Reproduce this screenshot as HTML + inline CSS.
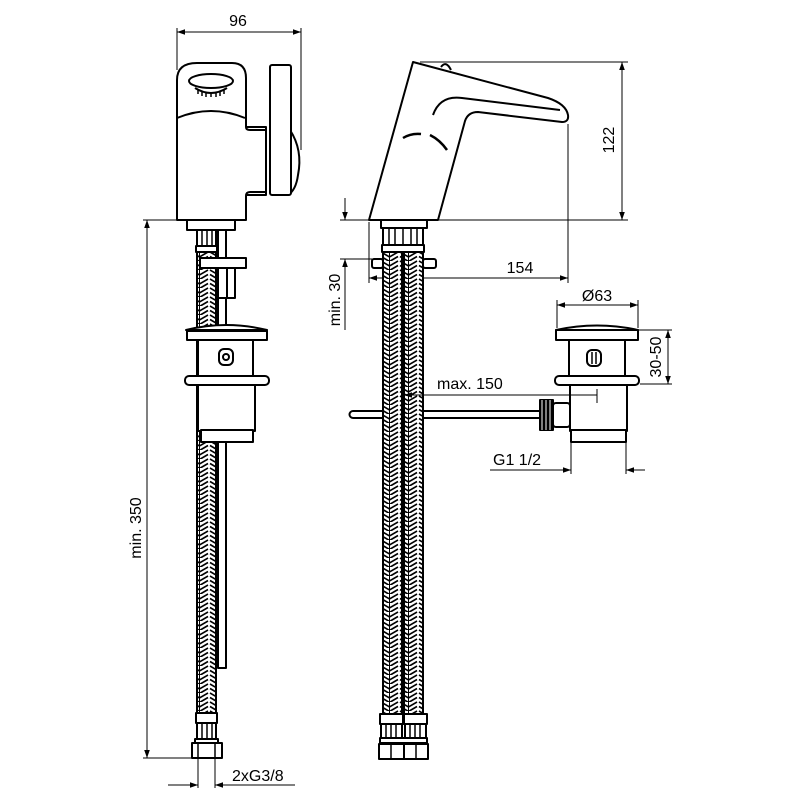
<!DOCTYPE html>
<html><head><meta charset="utf-8"><style>
html,body{margin:0;padding:0;background:#fff}
svg{display:block}
text{font-family:"Liberation Sans",Arial,sans-serif;font-size:16px;fill:#000}
</style></head><body>
<svg width="800" height="800" viewBox="0 0 800 800" xmlns="http://www.w3.org/2000/svg">
<defs>
<pattern id="braid" width="19" height="9" patternUnits="userSpaceOnUse">
<rect width="19" height="9" fill="#fff"/>
<path d="M1 0 L9.5 5 L18 0 M1 4.5 L9.5 9.5 L18 4.5 M1 9 L9.5 14 L18 9" stroke="#000" stroke-width="1.6" fill="none"/>
<line x1="9.5" y1="0" x2="9.5" y2="9" stroke="#000" stroke-width="1"/>
</pattern>
<marker id="a" viewBox="0 0 10 10" refX="10" refY="5" markerWidth="8" markerHeight="8" orient="auto-start-reverse" markerUnits="userSpaceOnUse"><path d="M0 1.5 L10 5 L0 8.5 z" fill="#000"/></marker>
</defs>
<g stroke="#000" stroke-width="1" fill="none">
<line x1="177" y1="28" x2="177" y2="70"/><line x1="301" y1="28" x2="301" y2="150"/>
<line x1="177" y1="32" x2="301" y2="32" marker-start="url(#a)" marker-end="url(#a)"/>
<line x1="143" y1="220" x2="177" y2="220"/><line x1="143" y1="758" x2="192" y2="758"/>
<line x1="147" y1="220" x2="147" y2="758" marker-start="url(#a)" marker-end="url(#a)"/>
<line x1="198" y1="758" x2="198" y2="788"/><line x1="215" y1="758" x2="215" y2="788"/>
<line x1="168" y1="785" x2="198" y2="785" marker-end="url(#a)"/>
<line x1="295" y1="785" x2="215" y2="785" marker-end="url(#a)"/>
</g>
<g stroke="#000" stroke-width="2" fill="#fff" stroke-linejoin="round">
<rect x="218" y="228" width="8" height="440"/>
<rect x="197" y="250" width="19" height="465" fill="url(#braid)"/>
<path d="M246 127 L266 127 L266 195 L246 195 Z"/>
<path d="M177 80 Q177 63 197 63 L232 63 Q246 63 246 78 L246 127 Q246 130 250 130 L266 130 L266 192 L250 192 Q246 192 246 196 L246 220 L177 220 Z"/>
<path d="M177 118 Q211 104 245 118" fill="none"/>
<path d="M290 130 Q303 150 298 175 Q296 190 288 195" />
<rect x="270" y="65" width="21" height="130" rx="2"/>
<ellipse cx="211" cy="81" rx="22" ry="7"/>
<path d="M195 88 Q211 98 227 88" fill="none"/>
<path d="M198 89 v5 M202 91 v5 M206 92 v5 M211 92 v5 M216 92 v5 M220 91 v5 M224 89 v5" fill="none" stroke-width="1.5"/>
<rect x="187" y="220" width="48" height="10"/>
<rect x="197" y="230" width="19" height="18"/>
<path d="M202 230 v18 M207 230 v18 M212 230 v18" fill="none" stroke-width="1.5"/>
<rect x="196" y="246" width="21" height="6"/>
<rect x="200" y="258" width="46" height="10"/>
<rect x="218" y="268" width="9" height="30"/><rect x="227" y="268" width="8" height="30"/>
<path d="M186 330 Q226 320 267 330 Z"/>
<rect x="187" y="331" width="80" height="9"/>
<rect x="198" y="340" width="55" height="36"/>
<rect x="219" y="349" width="14" height="16" rx="5"/>
<circle cx="226" cy="357" r="3" fill="none"/>
<rect x="185" y="376" width="84" height="9" rx="4"/>
<rect x="198" y="385" width="57" height="46"/>
<rect x="201" y="430" width="52" height="12"/>
<rect x="196" y="713" width="21" height="10"/>
<rect x="197" y="723" width="19" height="17"/>
<path d="M202 723 v17 M207 723 v17 M212 723 v17" fill="none" stroke-width="1.5"/>
<rect x="195" y="739" width="23" height="4"/>
<rect x="192" y="743" width="30" height="15"/>
<path d="M198 743 v15 M215 743 v15" fill="none" stroke-width="1.5"/>
</g>

<g stroke="#000" stroke-width="1" fill="none">
<line x1="420" y1="62" x2="628" y2="62"/><line x1="438" y1="220" x2="628" y2="220"/>
<line x1="622" y1="62" x2="622" y2="220" marker-start="url(#a)" marker-end="url(#a)"/>
<line x1="568" y1="124" x2="568" y2="283"/><line x1="369" y1="222" x2="369" y2="283"/>
<line x1="369" y1="278" x2="568" y2="278" marker-start="url(#a)" marker-end="url(#a)"/>
<line x1="340" y1="220" x2="369" y2="220"/><line x1="340" y1="259" x2="372" y2="259"/>
<line x1="345" y1="198" x2="345" y2="220" marker-end="url(#a)"/>
<line x1="345" y1="330" x2="345" y2="259" marker-end="url(#a)"/>
<line x1="557" y1="300" x2="557" y2="328"/><line x1="638" y1="300" x2="638" y2="328"/>
<line x1="557" y1="305" x2="638" y2="305" marker-start="url(#a)" marker-end="url(#a)"/>
<line x1="638" y1="330" x2="672" y2="330"/><line x1="640" y1="384" x2="672" y2="384"/>
<line x1="668" y1="330" x2="668" y2="384" marker-start="url(#a)" marker-end="url(#a)"/>
<line x1="571" y1="442" x2="571" y2="474"/><line x1="626" y1="442" x2="626" y2="474"/>
<line x1="490" y1="470" x2="571" y2="470" marker-end="url(#a)"/>
<line x1="645" y1="470" x2="626" y2="470" marker-end="url(#a)"/>
</g>
<g stroke="#000" stroke-width="2" fill="#fff" stroke-linejoin="round">
<path d="M353 411 L540 411 L540 418 L353 418 A3.5 3.5 0 0 1 353 411 Z"/>
<rect x="383" y="250" width="19" height="465" fill="url(#braid)"/>
<rect x="404" y="250" width="19" height="465" fill="url(#braid)"/>
<path d="M413 62 L548 98 Q566 104 568 115 Q569 122 562 122 L478 112 Q468 112 465 121 L438 220 L369 220 Z"/>
<path d="M441 67 Q446 60 451 70" fill="none"/>
<path d="M433 115 Q440 95 462 98 L560 110" fill="none"/>
<path d="M403 138 Q411 133 421 134" fill="none" stroke-width="2.5"/>
<path d="M430 135 Q440 140 447 150" fill="none" stroke-width="2.5"/>
<rect x="381" y="220" width="46" height="8"/>
<rect x="383" y="228" width="40" height="17"/>
<path d="M389 228 v17 M395 228 v17 M403 228 v17 M411 228 v17 M417 228 v17" fill="none" stroke-width="1.5"/>
<rect x="382" y="245" width="42" height="7"/>
<rect x="372" y="259" width="11" height="9" rx="2"/>
<rect x="423" y="259" width="13" height="9" rx="2"/>
<rect x="380" y="714" width="23" height="10"/><rect x="404" y="714" width="23" height="10"/>
<rect x="381" y="724" width="21" height="14"/><rect x="405" y="724" width="21" height="14"/>
<path d="M386 724 v14 M391 724 v14 M396 724 v14 M410 724 v14 M415 724 v14 M420 724 v14" fill="none" stroke-width="1.5"/>
<rect x="380" y="738" width="47" height="5"/>
<rect x="379" y="744" width="25" height="15"/><rect x="404" y="744" width="24" height="15"/>
<path d="M391 744 v15 M416 744 v15" fill="none" stroke-width="1.5"/>
<path d="M556 330 Q597 321 638 330 Z"/>
<rect x="556" y="330" width="82" height="10"/>
<rect x="569" y="340" width="56" height="36"/>
<rect x="587" y="350" width="14" height="16" rx="5"/>
<path d="M592 352 v12 M596 352 v12" fill="none" stroke-width="1.5"/>
<rect x="555" y="376" width="84" height="9" rx="4"/>
<rect x="570" y="385" width="57" height="46"/>
<rect x="571" y="430" width="55" height="12"/>
<rect x="553" y="403" width="17" height="24" rx="3"/>
<rect x="540" y="400" width="13" height="30" fill="#000"/>
<path d="M542 400 v30 M546 400 v30 M550 400 v30" stroke="#fff" stroke-width="1" fill="none"/>
</g>
<g stroke="#000" stroke-width="1" fill="none">
<line x1="597" y1="395" x2="404" y2="395" marker-end="url(#a)"/>
<line x1="597" y1="389" x2="597" y2="403"/>
</g>

<text x="238" y="26" text-anchor="middle">96</text>
<text x="141" y="528" text-anchor="middle" transform="rotate(-90 141 528)">min. 350</text>
<text x="232" y="781">2xG3/8</text>
<text x="614" y="140" text-anchor="middle" transform="rotate(-90 614 140)">122</text>
<text x="520" y="273" text-anchor="middle">154</text>
<text x="340" y="300" text-anchor="middle" transform="rotate(-90 340 300)">min. 30</text>
<text x="597" y="301" text-anchor="middle">Ø63</text>
<text x="661" y="357" text-anchor="middle" transform="rotate(-90 661 357)">30-50</text>
<text x="437" y="389">max. 150</text>
<text x="493" y="465">G1 1/2</text>
</svg>
</body></html>
